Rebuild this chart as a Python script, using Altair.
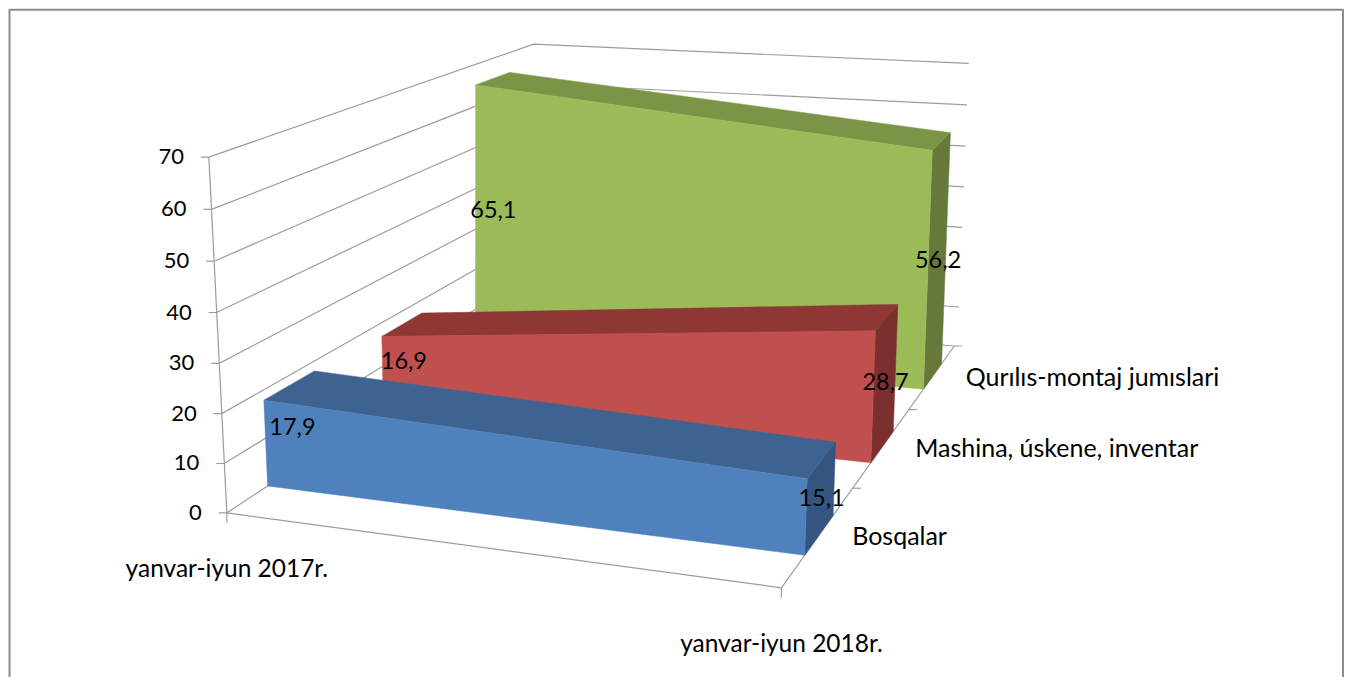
import altair as alt
import pandas as pd

# --- chart values ---
categories = ["yanvar-iyun 2017r.", "yanvar-iyun  2018r."]
series_names = ["Bosqalar", "Mashina, úskene, inventar", "Qurılıs-montaj jumıslari"]
series_2017 = [17.9, 16.9, 65.1]
series_2018 = [15.1, 28.7, 56.2]
value_labels_2017 = ["17,9", "16,9", "65,1"]
value_labels_2018 = ["15,1", "28,7", "56,2"]
value_ticks = [0, 10, 20, 30, 40, 50, 60, 70]
front_colors = ["#4F81BD", "#C0504D", "#9BBB59"]
top_colors = ["#3F6391", "#8E3735", "#7C9446"]
side_colors = ["#335580", "#7B302F", "#67793A"]
depth_centers = [1 / 6, 1 / 2, 5 / 6]
depth_half = 1 / 15
VMAX = 70
FONT = "Lato"
GRID = "#9C9C9C"

# camera of the 3-D box: screen position of the eight corners (u, depth, value)
BOX = {
    (0, 0, 0): (226, 512), (1, 0, 0): (781, 587),
    (0, 1, 0): (529, 312), (1, 1, 0): (954, 345),
    (0, 0, 1): (208, 156), (1, 0, 1): (793, 210),
    (0, 1, 1): (533, 43), (1, 1, 1): (965, 62),
}


def warp(t, k):
    return t / (t + (1 - t) * k)


def project(u, d, v):
    fd, gv = warp(d, 0.714), warp(v / VMAX, 1.034)
    out = []
    for i in (0, 1):
        val = 0
        for a, wa in ((0, 1 - u), (1, u)):
            for b, wb in ((0, 1 - fd), (1, fd)):
                for c, wc in ((0, 1 - gv), (1, gv)):
                    val += BOX[(a, b, c)][i] * wa * wb * wc
        out.append(val)
    return tuple(out)


def envelope(points):
    """Convex polygon as upper and lower bound over x, for an area mark."""
    xs = sorted({p[0] for p in points})
    rows = []
    n = len(points)
    for x in xs:
        hits = []
        for i in range(n):
            (x0, y0), (x1, y1) = points[i], points[(i + 1) % n]
            if x0 == x1:
                if x == x0:
                    hits += [y0, y1]
            elif min(x0, x1) <= x <= max(x0, x1):
                hits.append(y0 + (y1 - y0) * (x - x0) / (x1 - x0))
        rows.append({"x": x, "y": min(hits), "y2": max(hits)})
    return pd.DataFrame(rows)


X = alt.X("x:Q", scale=alt.Scale(domain=[8, 1344], nice=False, zero=False), axis=None)
Y = alt.Y("y:Q", scale=alt.Scale(domain=[677, 8], nice=False, zero=False), axis=None)


def face(points, color):
    return (
        alt.Chart(envelope(points))
        .mark_area(color=color, stroke=color, strokeWidth=0.5, interpolate="linear")
        .encode(x=X, y=Y, y2="y2:Q")
    )


# --- wall, floor and axis lines ---
segments = []


def add(*pts):
    sid = len(segments)
    segments.extend({"id": sid, "i": i, "x": p[0], "y": p[1]} for i, p in enumerate(pts))


for v in value_ticks:
    start = project(0, 0, v)
    if v == 0:
        add((start[0] - 8, start[1]), start, project(0, 1, v), project(1, 1, v),
            (project(1, 1, v)[0] + 8, project(1, 1, v)[1]))
    else:
        add((start[0] - 8, start[1]), start, project(0, 1, v), project(1.008, 1, v))
add(project(0, 0, 0), project(0, 0, VMAX))
add(project(0, 0, 0), project(1, 0, 0))
add(project(1, 0, 0), project(1, 1, 0))
for u in (0, 1):
    p = project(u, 0, 0)
    add(p, (p[0], p[1] + 10))
for d in (1 / 3, 2 / 3):
    p = project(1, d, 0)
    add(p, (p[0] + 8, p[1]))

lines = (
    alt.Chart(pd.DataFrame(segments))
    .mark_line(color=GRID, strokeWidth=1.2)
    .encode(x=X, y=Y, detail="id:N", order="i:Q")
)

# --- the three ribbons, back to front ---
faces = []
for s in (2, 1, 0):
    d0, d1 = depth_centers[s] - depth_half, depth_centers[s] + depth_half
    a, b = series_2017[s], series_2018[s]
    faces.append(face([project(1, d0, 0), project(1, d1, 0), project(1, d1, b), project(1, d0, b)], side_colors[s]))
    faces.append(face([project(0, d0, a), project(0, d1, a), project(1, d1, b), project(1, d0, b)], top_colors[s]))
    faces.append(face([project(0, d0, 0), project(1, d0, 0), project(1, d0, b), project(0, d0, a)], front_colors[s]))


# --- texts ---
def text_layer(rows, size, align="center", dx=0, dy=0):
    return (
        alt.Chart(pd.DataFrame(rows))
        .mark_text(font=FONT, fontSize=size, color="#000000", align=align, baseline="middle", dx=dx, dy=dy)
        .encode(x=X, y=Y, text="t:N")
    )


def row(p, t):
    return {"x": p[0], "y": p[1], "t": t}


tick_text = text_layer([row(project(0, 0, v), str(v)) for v in value_ticks], 22, align="right", dx=-25)
cat_text = text_layer([row(project(i, 0, 0), c) for i, c in enumerate(categories)], 24.5, dy=57)
ser_text = text_layer(
    [row(project(1, depth_centers[i], 0), n) for i, n in enumerate(series_names)], 25, align="left", dx=33, dy=2
)
value_rows = []
for s in range(3):
    value_rows.append(row(project(0, depth_centers[s], series_2017[s] / 2), value_labels_2017[s]))
    value_rows.append(row(project(1, depth_centers[s], series_2018[s] / 2), value_labels_2018[s]))
val_text = text_layer(value_rows, 23.5, dx=1, dy=1)

# --- outer frame ---
frame = [
    alt.Chart(pd.DataFrame({"a": [0]})).mark_rule(color="#8C8C8C", strokeWidth=2).encode(
        x=alt.value(0.5), x2=alt.value(1335), y=alt.value(0.5)),
    alt.Chart(pd.DataFrame({"a": [0]})).mark_rule(color="#8C8C8C", strokeWidth=2).encode(
        x=alt.value(0.5), y=alt.value(0), y2=alt.value(669)),
    alt.Chart(pd.DataFrame({"a": [0]})).mark_rule(color="#8C8C8C", strokeWidth=2).encode(
        x=alt.value(1335), y=alt.value(0), y2=alt.value(669)),
]

chart = (
    alt.layer(*frame, lines, *faces, tick_text, cat_text, ser_text, val_text)
    .properties(width=1336, height=669, padding=0, background="#FFFFFF")
    .configure_view(stroke=None)
)
chart.save("out.html", embed_options={"renderer": "svg", "actions": False})
